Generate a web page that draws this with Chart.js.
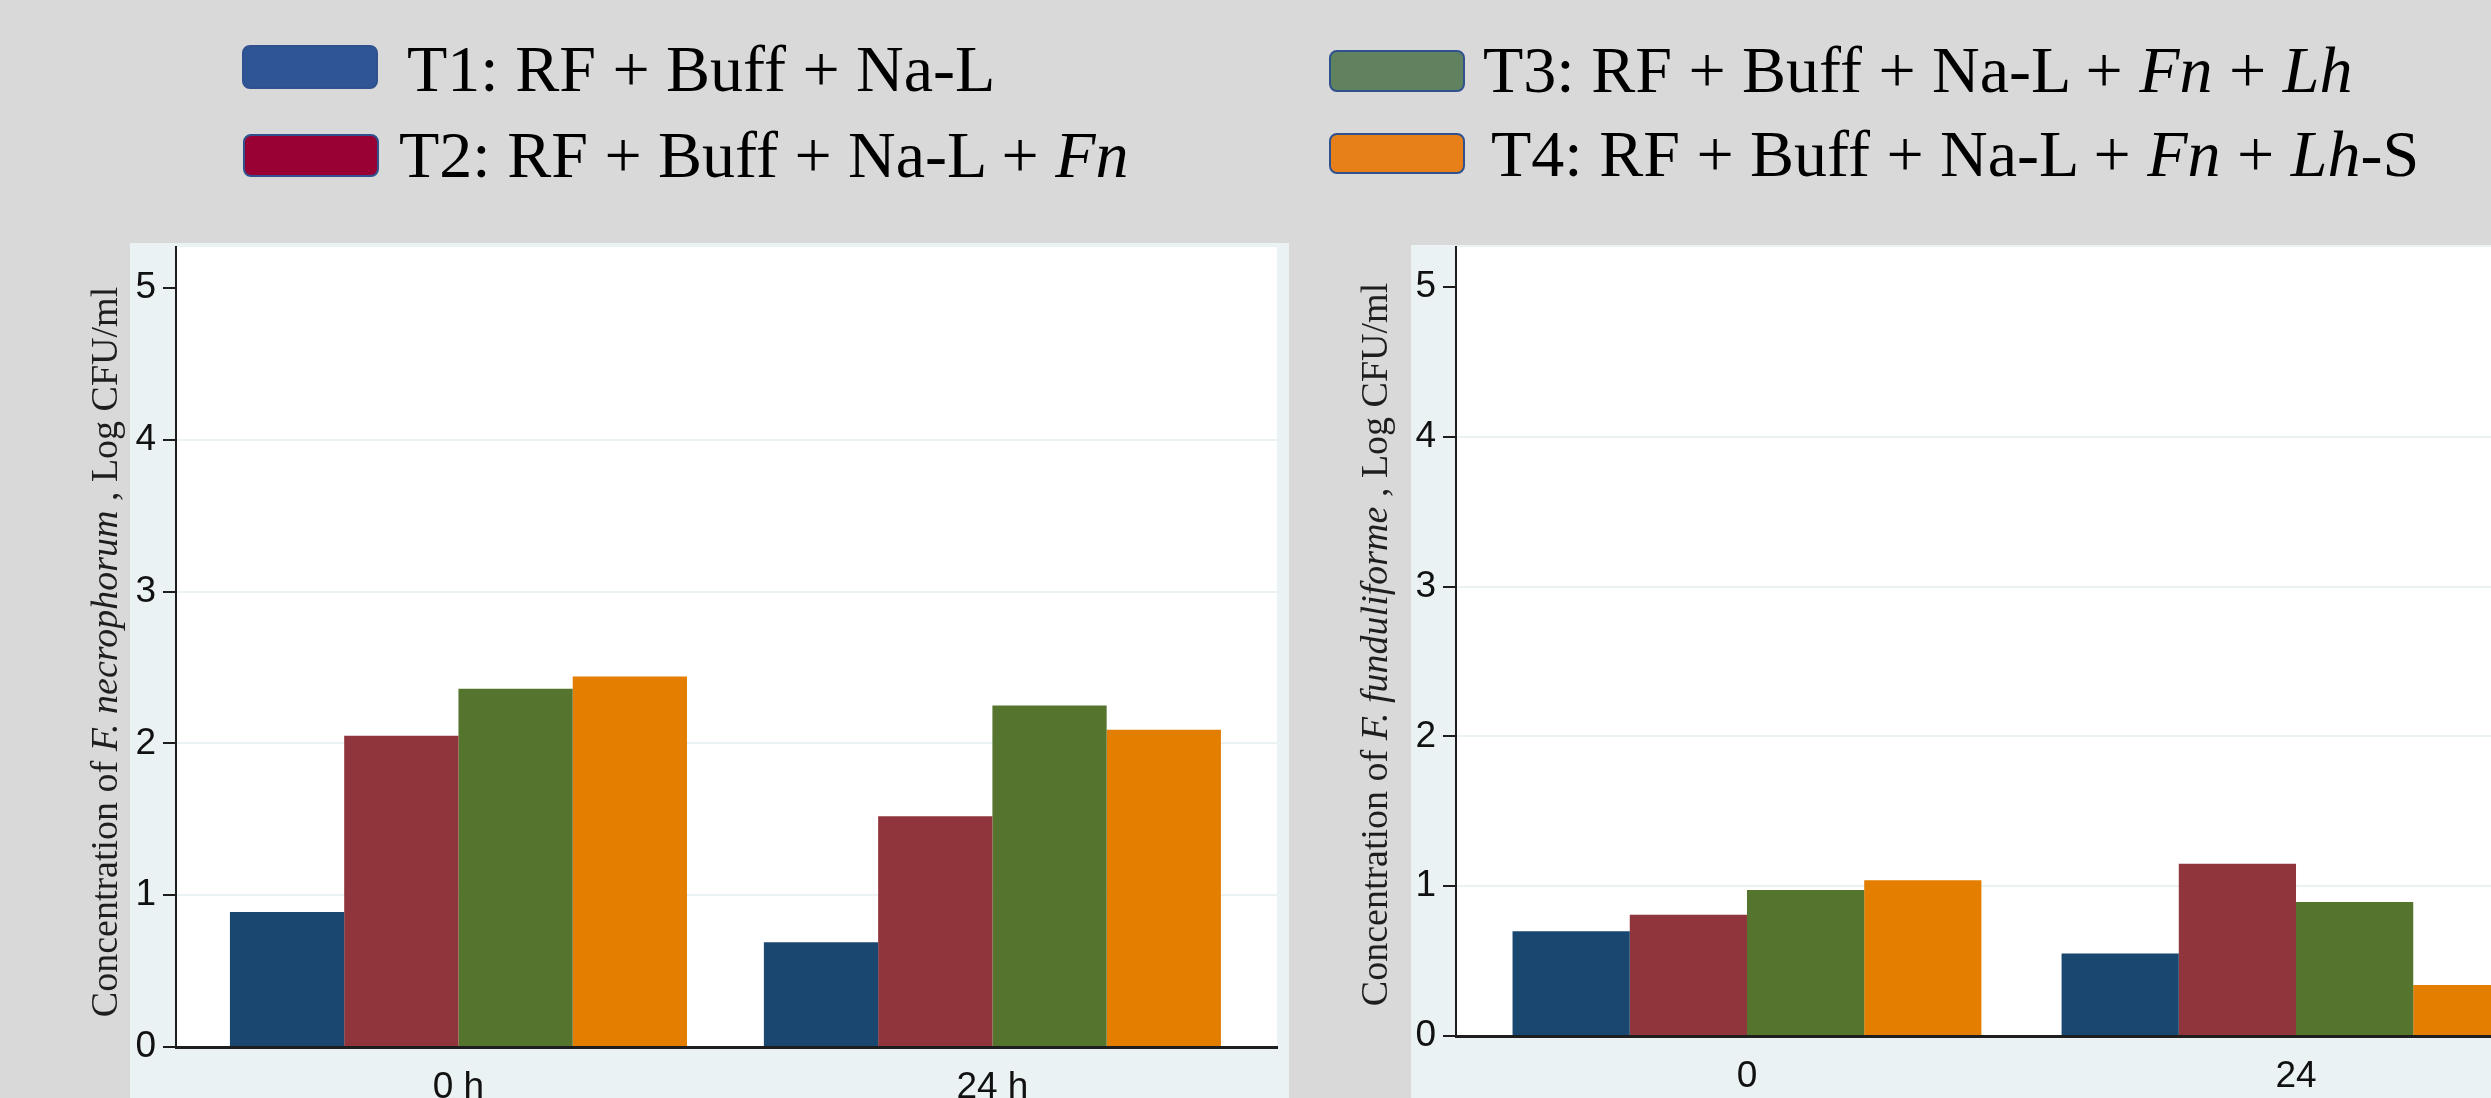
<!DOCTYPE html>
<html>
<head>
<meta charset="utf-8">
<script src="https://cdn.jsdelivr.net/npm/chart.js@4.4.1/dist/chart.umd.min.js"></script>
<style>
  html, body { margin: 0; padding: 0; width: 2491px; height: 1098px; overflow: hidden; background: #d9d9d9; }
  canvas { position: absolute; }
  .farvefelt { position: absolute; width: 136px; border: 2px solid #2f528f; border-radius: 8px; box-sizing: border-box; }
  .legendetekst { position: absolute; font-family: "Liberation Serif", "Times New Roman", serif; font-size: 66px; line-height: 66px; color: #000; white-space: nowrap; }
</style>
</head>
<body>
<div id="legende"></div>
<canvas id="graf-necrophorum" width="1229" height="870" style="left:60px; top:243px;"></canvas>
<canvas id="graf-funduliforme" width="1270" height="870" style="left:1330px; top:245px;"></canvas>
<script>
/* kategorier og tick-værdier */
const tiderNecrophorum = ['0 h', '24 h'];
const tiderFunduliforme = ['0', '24'];
const yTicks = [0, 1, 2, 3, 4, 5];

/* F. necrophorum, Log CFU/ml */
const necT1 = [0.89, 0.69];
const necT2 = [2.05, 1.52];
const necT3 = [2.36, 2.25];
const necT4 = [2.44, 2.09];

/* F. funduliforme, Log CFU/ml */
const funT1 = [0.70, 0.55];
const funT2 = [0.81, 1.15];
const funT3 = [0.975, 0.895];
const funT4 = [1.04, 0.34];

/* legende-tekster: [tekst, kursiv] */
const behandlinger = [
    [['T1: RF + Buff + Na-L', false]],
    [['T2: RF + Buff + Na-L + ', false], ['Fn', true]],
    [['T3: RF + Buff + Na-L + ', false], ['Fn', true], [' + ', false], ['Lh', true]],
    [['T4: RF + Buff + Na-L + ', false], ['Fn', true], [' + ', false], ['Lh', true], ['-S', false]]
];

const titelNecrophorum = [['Concentration of ', false], ['F. necrophorum', true], [' , Log CFU/ml', false]];
const titelFunduliforme = [['Concentration of ', false], ['F. funduliforme', true], [' , Log CFU/ml', false]];

const søjleFarver = ['#1a476f', '#90353b', '#55752f', '#e37e00'];
const legendeFarver = ['#2f5597', '#990033', '#61825f', '#e8801a'];

/* placering af legendens felter og tekst (px) */
const legendePlacering = [
    { fx: 242, fy: 45, fh: 44, tx: 407, ty: 36 },
    { fx: 243, fy: 134, fh: 43, tx: 399, ty: 122 },
    { fx: 1329, fy: 50, fh: 42, tx: 1483, ty: 37 },
    { fx: 1329, fy: 133, fh: 41, tx: 1491, ty: 121 }
];

/* bygger legenden som html, så kursiv kan blandes med normal tekst */
const legende = document.getElementById('legende');
for (let i = 0; i < behandlinger.length; i++) {
    const p = legendePlacering[i];
    const felt = document.createElement('div');
    felt.className = 'farvefelt';
    felt.style.left = p.fx + 'px';
    felt.style.top = p.fy + 'px';
    felt.style.height = p.fh + 'px';
    felt.style.background = legendeFarver[i];
    legende.appendChild(felt);

    const tekst = document.createElement('div');
    tekst.className = 'legendetekst';
    tekst.style.left = p.tx + 'px';
    tekst.style.top = p.ty + 'px';
    for (const [del, kursiv] of behandlinger[i]) {
        const span = document.createElement('span');
        if (kursiv) span.style.fontStyle = 'italic';
        span.textContent = del;
        tekst.appendChild(span);
    }
    legende.appendChild(tekst);
}

Chart.defaults.font.family = '"Liberation Sans", Arial, sans-serif';
Chart.defaults.animation = false;

/* grå-blå panel bag grafen og hvidt plotområde */
const baggrundPlugin = {
    id: 'baggrund',
    beforeDraw(chart, args, opts) {
        const { ctx, chartArea, width, height } = chart;
        ctx.save();
        ctx.fillStyle = '#eaf2f3';
        ctx.fillRect(opts.panelStart, 0, width - opts.panelStart, height);
        ctx.fillStyle = '#ffffff';
        ctx.fillRect(chartArea.left, chartArea.top, chartArea.right - chartArea.left, chartArea.bottom - chartArea.top);
        ctx.restore();
    }
};

/* lodret aksetitel med blandet kursiv, tegnet fra bunden og op */
const aksetitelPlugin = {
    id: 'aksetitel',
    afterDraw(chart, args, opts) {
        const { ctx, chartArea } = chart;
        const skrift = (kursiv) => (kursiv ? 'italic ' : '') + opts.str + 'px "Liberation Serif", "Times New Roman", serif';
        let samlet = 0;
        for (const [del, kursiv] of opts.dele) {
            ctx.font = skrift(kursiv);
            samlet += ctx.measureText(del).width;
        }
        ctx.save();
        ctx.fillStyle = '#1e1e1e';
        ctx.translate(opts.x, (chartArea.top + chartArea.bottom) / 2 + opts.forskyd);
        ctx.rotate(-Math.PI / 2);
        ctx.textAlign = 'left';
        ctx.textBaseline = 'alphabetic';
        let x = -samlet / 2;
        for (const [del, kursiv] of opts.dele) {
            ctx.font = skrift(kursiv);
            ctx.fillText(del, x, 0);
            x += ctx.measureText(del).width;
        }
        ctx.restore();
    }
};

function lavGraf(id, tider, serier, g) {
    const datasets = [];
    for (let i = 0; i < serier.length; i++) {
        datasets.push({
            label: 'T' + (i + 1),
            data: serier[i].map((v, j) => ({ x: j, y: v })),
            backgroundColor: søjleFarver[i],
            borderWidth: 0,
            categoryPercentage: g.gruppeAndel,
            barPercentage: 1.0
        });
    }

    return new Chart(document.getElementById(id), {
        type: 'bar',
        data: { datasets: datasets },
        options: {
            responsive: false,
            layout: { padding: { left: 0, top: g.top, right: g.hoejre, bottom: 0 } },
            plugins: {
                legend: { display: false },
                tooltip: { enabled: false },
                baggrund: { panelStart: g.panelStart },
                aksetitel: { dele: g.titel, str: 38, x: g.titelX, forskyd: g.titelForskyd }
            },
            scales: {
                x: {
                    type: 'linear',
                    offset: false,
                    min: g.xMin,
                    max: g.xMax,
                    afterBuildTicks: (s) => { s.ticks = tider.map((t, j) => ({ value: j })); },
                    afterFit: (s) => { s.height = g.xHoejde; s.paddingLeft = 0; s.paddingRight = 0; },
                    grid: { display: false, drawTicks: false, offset: false },
                    border: { display: true, color: '#1e1e1e', width: 3 },
                    ticks: {
                        callback: (v) => tider[v],
                        font: { size: 37 },
                        color: '#111',
                        padding: 19,
                        autoSkip: false,
                        maxRotation: 0
                    }
                },
                y: {
                    min: 0,
                    max: g.yMax,
                    afterBuildTicks: (s) => { s.ticks = yTicks.map((v) => ({ value: v })); },
                    afterFit: (s) => { s.width = g.yBredde; s.paddingTop = 0; s.paddingBottom = 0; },
                    grid: {
                        color: (c) => (c.tick && c.tick.value > 0 && c.tick.value < 5) ? '#eaf2f3' : 'rgba(0,0,0,0)',
                        lineWidth: 2,
                        tickColor: '#1e1e1e',
                        tickWidth: 2,
                        tickLength: 13
                    },
                    border: { display: true, color: '#1e1e1e', width: 2 },
                    ticks: {
                        font: { size: 37 },
                        color: '#111',
                        padding: 7
                    }
                }
            }
        },
        plugins: [baggrundPlugin, aksetitelPlugin]
    });
}

lavGraf('graf-necrophorum', tiderNecrophorum, [necT1, necT2, necT3, necT4], {
    top: 4, hoejre: 12, panelStart: 70,
    yBredde: 116, xHoejde: 66, yMax: 5.27,
    xMin: -0.529, xMax: 1.533, gruppeAndel: 0.856,
    titel: titelNecrophorum, titelX: 57, titelForskyd: 5
});

lavGraf('graf-funduliforme', tiderFunduliforme, [funT1, funT2, funT3, funT4], {
    top: 2, hoejre: 13, panelStart: 81,
    yBredde: 126, xHoejde: 79, yMax: 5.267,
    xMin: -0.530, xMax: 1.530, gruppeAndel: 0.854,
    titel: titelFunduliforme, titelX: 57, titelForskyd: 3
});
</script>
</body>
</html>
